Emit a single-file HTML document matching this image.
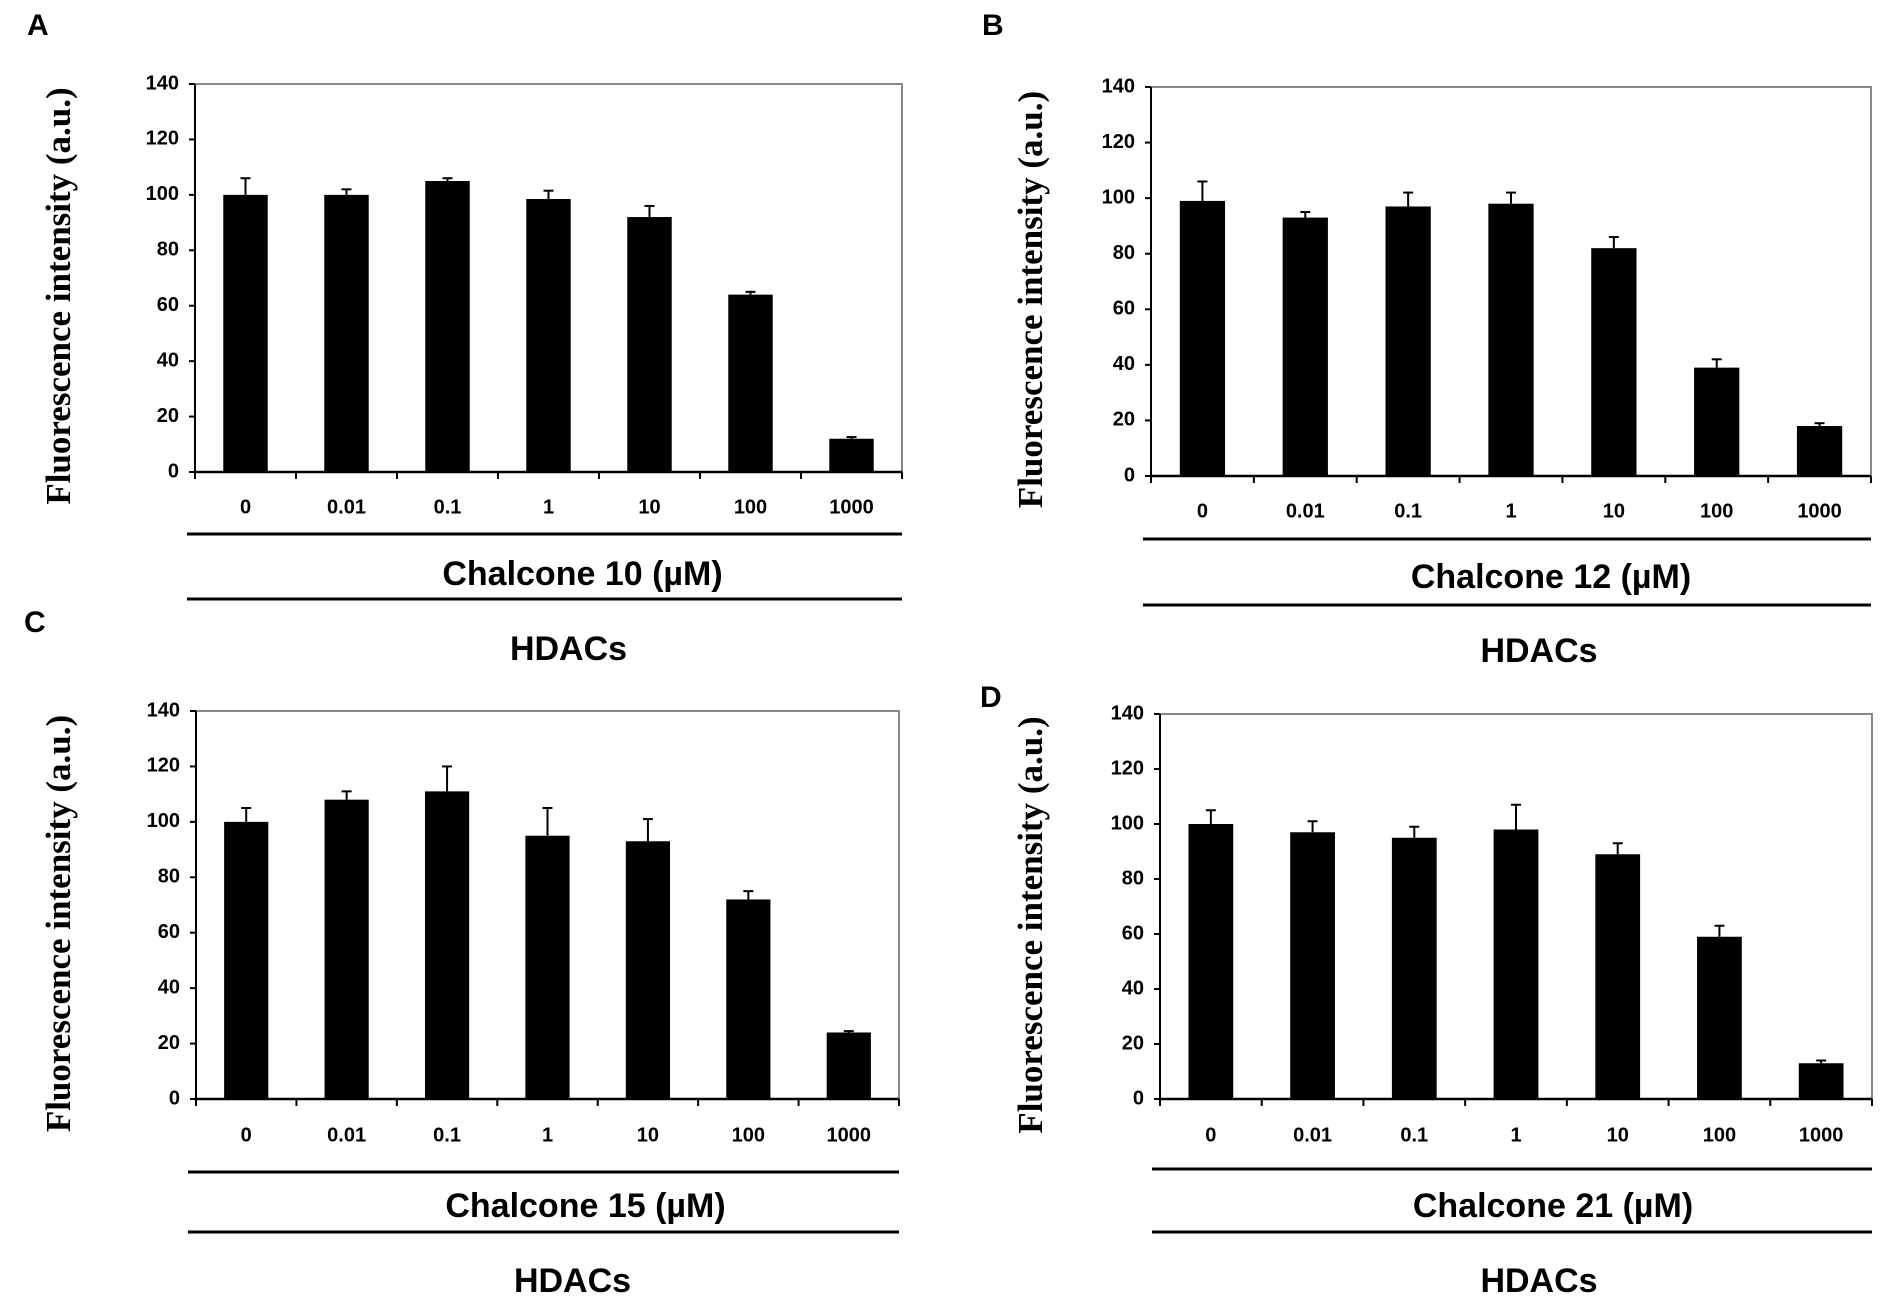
<!DOCTYPE html>
<html><head><meta charset="utf-8"><style>
html,body{margin:0;padding:0;background:#fff;}
svg{display:block}
text{font-family:"Liberation Sans",sans-serif;font-weight:bold;fill:#000}
.ttl{font-family:"Liberation Serif",serif;font-weight:bold}
</style></head><body>
<svg id="fig" width="1890" height="1312" viewBox="0 0 1890 1312" xmlns="http://www.w3.org/2000/svg"></svg>
<script>
const categories = ["0","0.01","0.1","1","10","100","1000"];
const yTicks = [0,20,40,60,80,100,120,140];
const valuesA = [100,100,105,98.5,92,64,12];
const errorsA = [6,2,1,3,4,1,0.6];
const valuesB = [99,93,97,98,82,39,18];
const errorsB = [7,2,5,4,4,3,1];
const valuesC = [100,108,111,95,93,72,24];
const errorsC = [5,3,9,10,8,3,0.5];
const valuesD = [100,97,95,98,89,59,13];
const errorsD = [5,4,4,9,4,4,1];
const compounds = ["Chalcone 10 (µM)","Chalcone 12 (µM)","Chalcone 15 (µM)","Chalcone 21 (µM)"];
const panelLetters = ["A","B","C","D"];

const NS="http://www.w3.org/2000/svg";
const svg=document.getElementById('fig');
function mk(tag,attrs,parent){const e=document.createElementNS(NS,tag);for(const k in attrs)e.setAttribute(k,attrs[k]);(parent||svg).appendChild(e);return e;}

const layouts=[
 {l:195,r:902,t:84,b:472,tick:508,line1:534,lab:576,line2:599,hd:651,lx:27,ly:27,tx:62,co:38,ho:24},
 {l:1151,r:1871,t:87,b:476,tick:512,line1:539,lab:579,line2:605,hd:653,lx:982,ly:27,tx:1034,co:44,ho:32},
 {l:196,r:899,t:711,b:1099,tick:1136,line1:1172,lab:1208,line2:1232,hd:1283,lx:24,ly:624,tx:62,co:42,ho:29},
 {l:1160,r:1872,t:714,b:1099,tick:1136,line1:1169,lab:1208,line2:1232,hd:1283,lx:980,ly:699,tx:1034,co:41,ho:27}
];
const allVals=[valuesA,valuesB,valuesC,valuesD];
const allErrs=[errorsA,errorsB,errorsC,errorsD];

layouts.forEach((L,p)=>{
  const g=mk('g',{});
  
  
  const y=v=>L.b-(v/140)*(L.b-L.t);
  const band=(L.r-L.l)/categories.length;
  const x=i=>L.l+band*(i+0.5);
  const lt=mk('text',{x:L.lx,y:L.ly,'font-size':30,'dominant-baseline':'middle'},g);lt.textContent=panelLetters[p];
  
  
  const fr=mk('rect',{x:L.l,y:L.t,width:L.r-L.l,height:L.b-L.t,fill:'none',stroke:'#888','stroke-width':2},g);
  
  
  mk('line',{x1:L.l,y1:L.t,x2:L.l,y2:L.b,stroke:'#000','stroke-width':2},g);
  mk('line',{x1:L.l,y1:L.b,x2:L.r,y2:L.b,stroke:'#000','stroke-width':2.5},g);
  yTicks.forEach(t=>{
    mk('line',{x1:L.l-6,y1:y(t),x2:L.l,y2:y(t),stroke:'#000','stroke-width':2},g);
    const tx=mk('text',{x:L.l-16,y:y(t),'font-size':20,'text-anchor':'end','dominant-baseline':'middle'},g);
    tx.textContent=t;
    
    
  });
  for(let i=0;i<=categories.length;i++){
    const xx=L.l+band*i;
    mk('line',{x1:xx,y1:L.b,x2:xx,y2:L.b+7,stroke:'#000','stroke-width':2},g);
  }
  const vals=allVals[p],errs=allErrs[p];
  const bw=band*0.44;
  vals.forEach((v,i)=>{
    mk('line',{x1:x(i),y1:y(v),x2:x(i),y2:y(v+errs[i]),stroke:'#000','stroke-width':2},g);
    mk('line',{x1:x(i)-5,y1:y(v+errs[i]),x2:x(i)+5,y2:y(v+errs[i]),stroke:'#000','stroke-width':2},g);
    const b=mk('rect',{x:x(i)-bw/2,y:y(v),width:bw,height:L.b-y(v),fill:'#000'},g);
    
    
    const cl=mk('text',{x:x(i),y:L.tick,'font-size':20,'text-anchor':'middle','dominant-baseline':'middle'},g);
    cl.textContent=categories[i];
    
    
  });
  const lx1=L.l-8, lx2=L.r;
  mk('line',{x1:lx1,y1:L.line1,x2:lx2,y2:L.line1,stroke:'#000','stroke-width':3},g);
  mk('line',{x1:lx1,y1:L.line2,x2:lx2,y2:L.line2,stroke:'#000','stroke-width':3},g);
  const mid=(lx1+lx2)/2;
  const c=mk('text',{x:mid+L.co,y:L.lab,'font-size':34,'text-anchor':'middle','dominant-baseline':'middle'},g);
  c.textContent=compounds[p];
  
  
  const h=mk('text',{x:mid+L.ho,y:L.hd,'font-size':34,'text-anchor':'middle','dominant-baseline':'middle'},g);
  h.textContent="HDACs";
  
  
  const yc=(L.t+L.tick)/2;
  const yt=mk('text',{x:L.tx,y:yc,'font-size':35,'text-anchor':'middle','dominant-baseline':'middle',transform:`rotate(-90 ${L.tx} ${yc})`,'class':'ttl'},g);
  yt.textContent="Fluorescence intensity (a.u.)";
  
  
});
</script>
</body></html>
